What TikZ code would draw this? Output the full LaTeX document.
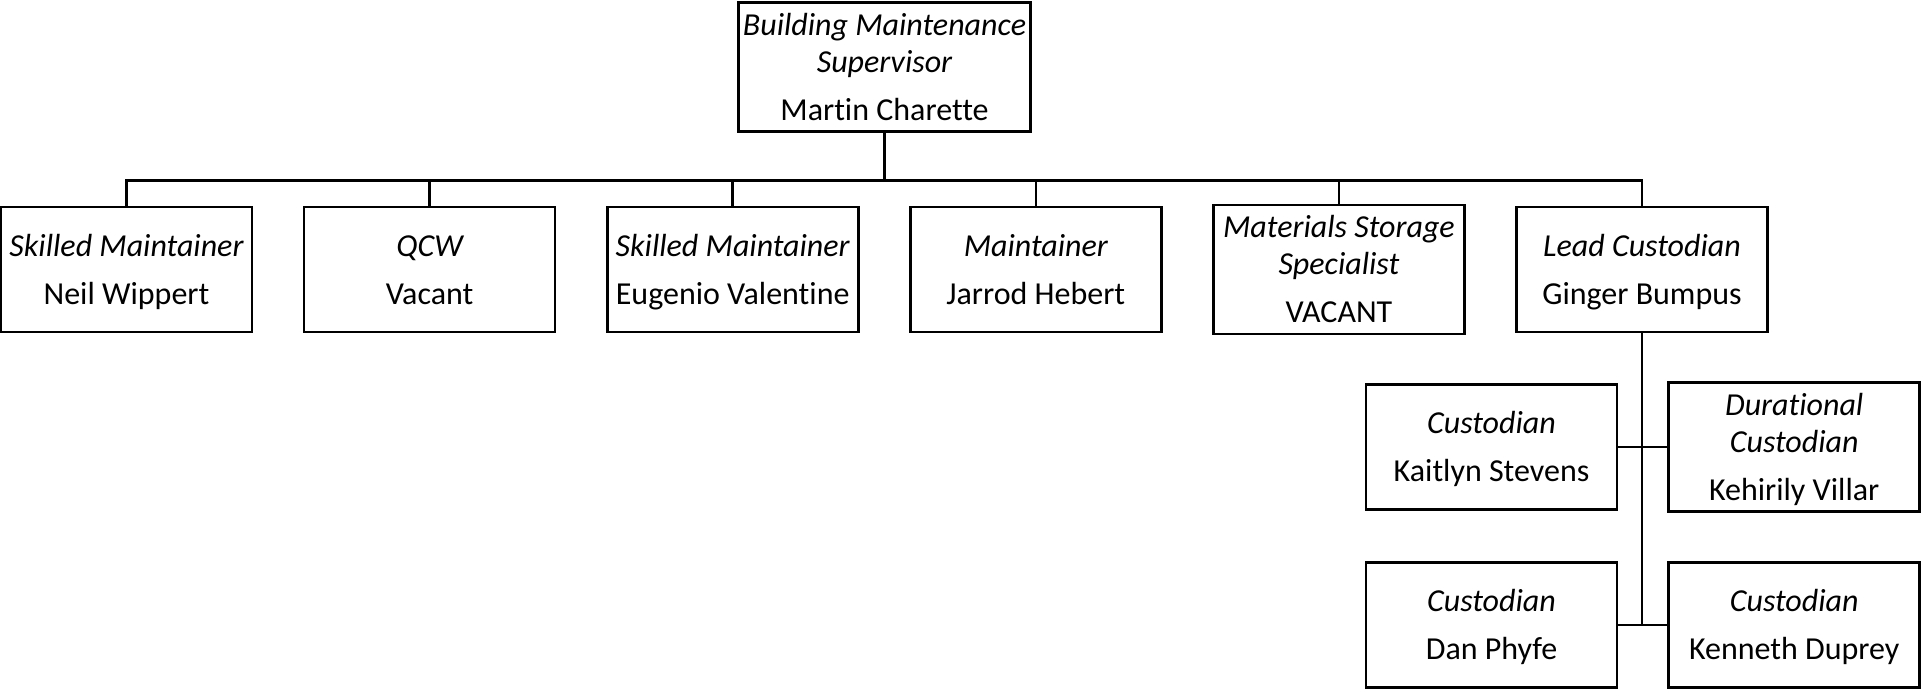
\documentclass[tikz,border=0pt]{standalone}
\usepackage{fontspec}
\setmainfont{Carlito}[Ligatures={NoCommon}]
\newcommand\topstrut{\rule{0pt}{33pt}}
\begin{document}
\begin{tikzpicture}[x=1pt,y=-1pt,
  box/.style={draw=black, line width=2.6pt, fill=white, align=center, inner sep=0pt,
    minimum width=251pt, minimum height=125pt,
    font=\fontsize{32}{37}\selectfont},
  link/.style={draw=black, line width=2.6pt}]
\useasboundingbox (0,0) rectangle (1921,691);
\node[box, minimum width=291.6pt, minimum height=126.2pt] (sup) at (884.5,66.8)
  {\topstrut\itshape Building Maintenance\\\itshape Supervisor\\[11pt]Martin Charette\strut};
\coordinate (bus) at (884.5,180.5);
\node[box] (n1) at (126.5,269.5) {\topstrut\itshape Skilled Maintainer\\[11pt]Neil Wippert\strut};
\node[box] (n2) at (429.6,269.5) {\topstrut\itshape QCW\\[11pt]Vacant\strut};
\node[box] (n3) at (732.7,269.5) {\topstrut\itshape Skilled Maintainer\\[11pt]Eugenio Valentine\strut};
\node[box] (n4) at (1035.8,269.5) {\topstrut\itshape Maintainer\\[11pt]Jarrod Hebert\strut};
\node[box] (n5) at (1338.9,269.5) {\topstrut\itshape Materials Storage\\\itshape Specialist\\[11pt]VACANT\strut};
\node[box] (lead) at (1642.0,269.5) {\topstrut\itshape Lead Custodian\\[11pt]Ginger Bumpus\strut};
\node[box] (c1) at (1491.5,447) {\topstrut\itshape Custodian\\[11pt]Kaitlyn Stevens\strut};
\node[box] (c2) at (1794.2,447) {\topstrut\itshape Durational\\\itshape Custodian\\[11pt]Kehirily Villar\strut};
\node[box] (c3) at (1491.5,625) {\topstrut\itshape Custodian\\[11pt]Dan Phyfe\strut};
\node[box] (c4) at (1794.2,625) {\topstrut\itshape Custodian\\[11pt]Kenneth Duprey\strut};
\draw[link] (sup.south) -- (bus);
\foreach \n in {n1,n2,n3,n4,n5,lead} \draw[link] (\n.north) |- (bus);
\coordinate (j2) at (lead.south |- c3.east);
\draw[link] (lead.south) -- (j2);
\draw[link] (c1.east) -- (c2.west);
\draw[link] (c3.east) -- (c4.west);
\end{tikzpicture}
\end{document}
